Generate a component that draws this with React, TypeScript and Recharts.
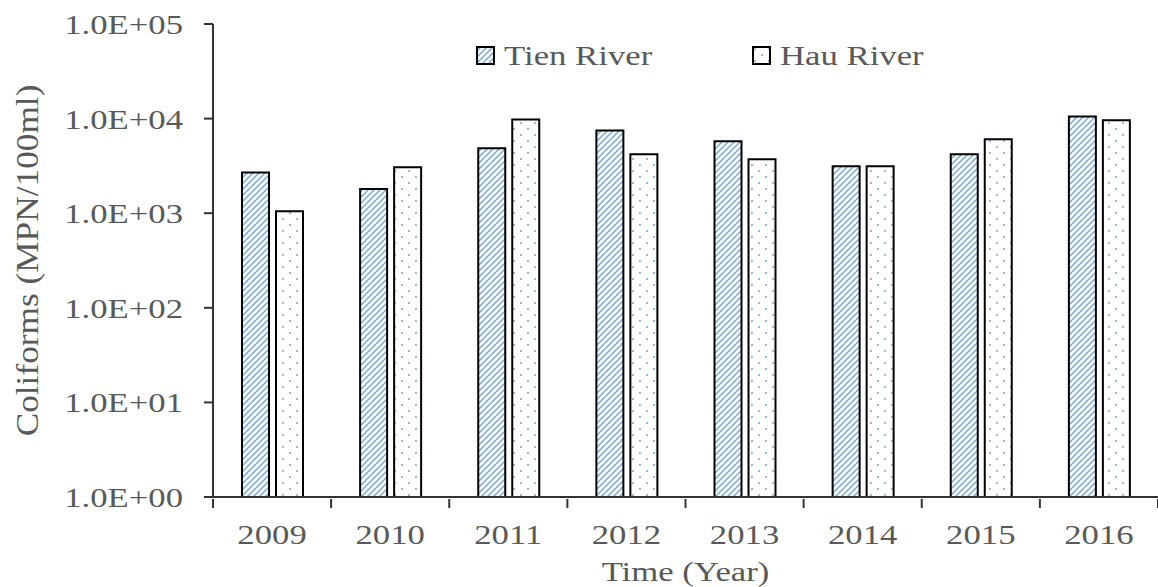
import React from 'react';
import { BarChart, Bar, XAxis, YAxis } from 'recharts';

const years = ['2009', '2010', '2011', '2012', '2013', '2014', '2015', '2016'];
const tienRiver = [2700, 1800, 4850, 7500, 5750, 3130, 4200, 10500];
const hauRiver = [1050, 3060, 9800, 4200, 3720, 3130, 6050, 9600];
const yTicks = [1, 10, 100, 1000, 10000, 100000];

const data = years.map((y, i) => ({ year: y, tien: tienRiver[i], hau: hauRiver[i] }));

const FONT = '"Liberation Serif", "Times New Roman", serif';
const GRAY = '#595959';
const SX = 1.24;

const fmt = (v: number) => {
  const e = Math.round(Math.log10(v));
  return `1.0E+${e < 10 ? '0' + e : e}`;
};

const XTick = (props: any) => {
  const { x, y, payload, index, visibleTicksCount } = props;
  const half = payload && payload.offset ? payload.offset : 59;
  return (
    <g>
      <line x1={x - half} x2={x - half} y1={y} y2={y + 9} stroke="#333" strokeWidth={2} />
      {index === visibleTicksCount - 1 && (
        <line x1={x + half} x2={x + half} y1={y} y2={y + 9} stroke="#333" strokeWidth={2} />
      )}
      <text transform={`translate(${x},${y + 45}) scale(${SX},1)`} textAnchor="middle" fill={GRAY} fontFamily={FONT} fontSize={28}>
        {payload.value}
      </text>
    </g>
  );
};

const YTick = (props: any) => {
  const { x, y, payload } = props;
  return (
    <text transform={`translate(${x - 19},${y + 10}) scale(${SX},1)`} textAnchor="end" fill={GRAY} fontFamily={FONT} fontSize={28}>
      {fmt(payload.value)}
    </text>
  );
};

const XLabel = (props: any) => {
  const vb = props.viewBox || {};
  const cx = vb.x + vb.width / 2;
  return (
    <text transform={`translate(${cx},${vb.y + 84}) scale(${SX},1)`} textAnchor="middle" fill={GRAY} fontFamily={FONT} fontSize={28}>
      Time (Year)
    </text>
  );
};

const YLabel = (props: any) => {
  const vb = props.viewBox || {};
  const cy = vb.y + vb.height / 2;
  return (
    <text transform={`translate(38,${cy}) rotate(-90) scale(1.26,1.15)`} textAnchor="middle" fill={GRAY} fontFamily={FONT} fontSize={28}>
      Coliforms (MPN/100ml)
    </text>
  );
};

const legendText: React.CSSProperties = {
  fontFamily: FONT,
  fontSize: 28,
  color: GRAY,
  display: 'inline-block',
  transform: `scale(${SX},1)`,
  transformOrigin: 'left center',
  whiteSpace: 'nowrap',
};

export default function App() {
  return (
    <div style={{ position: 'absolute', left: 0, top: 0, width: 1158, height: 587, background: '#fff' }}>
      <BarChart
        width={1158}
        height={587}
        data={data}
        margin={{ top: 24, right: 0, bottom: 60, left: 60 }}
        barSize={27}
        barGap={7}
      >
        <defs>
          <pattern id="hatch" patternUnits="userSpaceOnUse" width={6} height={6}>
            <rect width={6} height={6} fill="#fff" />
            <path d="M-1,1 l2,-2 M0,6 l6,-6 M5,7 l2,-2" stroke="#6fa6dc" strokeWidth={1.4} />
          </pattern>
          <pattern id="dots" patternUnits="userSpaceOnUse" width={14} height={12}>
            <rect width={14} height={12} fill="#fff" />
            <circle cx={3} cy={3} r={1} fill="#6fa6dc" />
            <circle cx={10} cy={9} r={1} fill="#6fa6dc" />
          </pattern>
        </defs>
        <XAxis
          dataKey="year"
          height={30}
          axisLine={{ stroke: '#333', strokeWidth: 2 }}
          tickLine={false}
          tickSize={0}
          tick={<XTick />}
          interval={0}
          label={<XLabel />}
        />
        <YAxis
          scale="log"
          domain={[1, 100000]}
          ticks={yTicks}
          allowDataOverflow
          width={153}
          axisLine={{ stroke: '#333', strokeWidth: 2 }}
          tickLine={{ stroke: '#333', strokeWidth: 2 }}
          tickSize={9}
          tick={<YTick />}
          interval={0}
          label={<YLabel />}
        />
        <Bar dataKey="tien" name="Tien River" fill="url(#hatch)" stroke="#000" strokeWidth={2} isAnimationActive={false} />
        <Bar dataKey="hau" name="Hau River" fill="url(#dots)" stroke="#000" strokeWidth={2} isAnimationActive={false} />
      </BarChart>
      <div style={{ position: 'absolute', left: 476, top: 40, display: 'flex', alignItems: 'center' }}>
        <svg width={20} height={20} style={{ marginRight: 8 }}>
          <rect x={1} y={1} width={17} height={17} fill="url(#hatch)" stroke="#000" strokeWidth={2} />
        </svg>
        <span style={legendText}>Tien River</span>
      </div>
      <div style={{ position: 'absolute', left: 752, top: 40, display: 'flex', alignItems: 'center' }}>
        <svg width={20} height={20} style={{ marginRight: 8 }}>
          <rect x={1} y={1} width={17} height={17} fill="url(#dots)" stroke="#000" strokeWidth={2} />
        </svg>
        <span style={legendText}>Hau River</span>
      </div>
    </div>
  );
}
